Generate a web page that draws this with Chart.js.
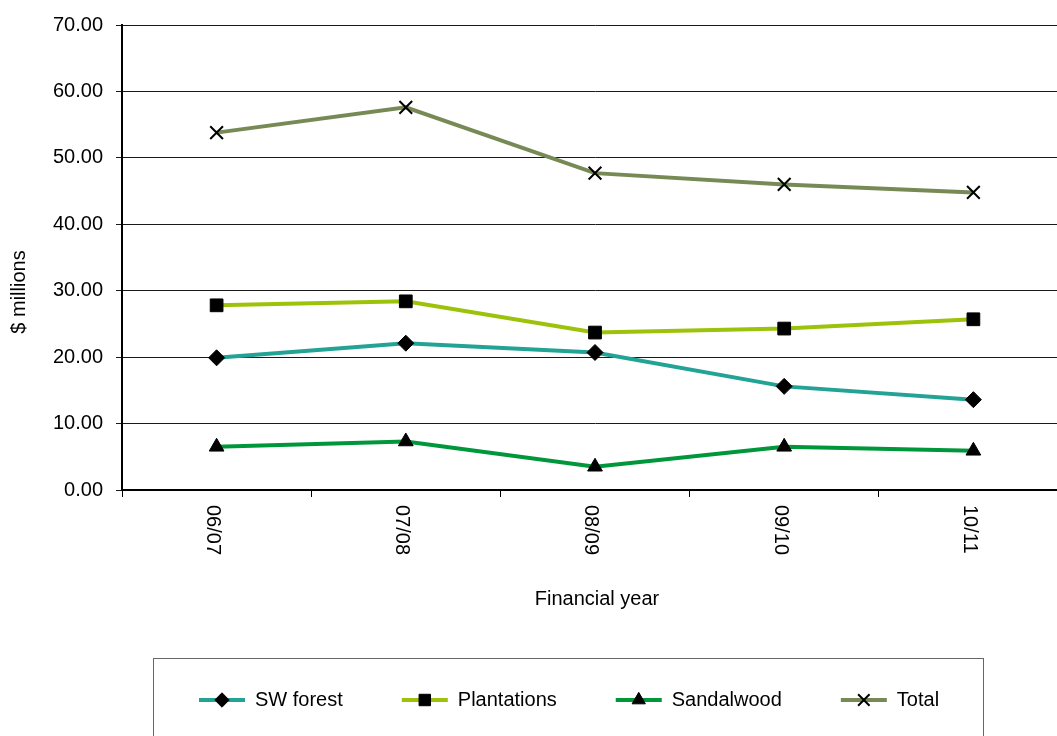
<!DOCTYPE html>
<html>
<head>
  <title>Forest products revenue</title>
  <script src="https://cdn.jsdelivr.net/npm/chart.js"></script>
  <style>
    body {
      margin: 0;
      background: #fff;
      overflow: hidden;
    }

    /* wider than the window: the plot runs off the right edge */
    .wrap {
      position: relative;
      width: 1079px;
      height: 736px;
    }
  </style>
</head>
<body>

  <div class="wrap">
    <canvas id="revenueChart"></canvas>
  </div>

  <script>
    // Revenue by source, $ millions per financial year
    const years = ["06/07", "07/08", "08/09", "09/10", "10/11"];
    const swForest = [19.9, 22.1, 20.7, 15.6, 13.6];
    const plantations = [27.8, 28.4, 23.7, 24.3, 25.7];
    const sandalwood = [6.5, 7.3, 3.5, 6.5, 5.9];
    const total = [53.8, 57.6, 47.7, 46.0, 44.8];

    const yMin = 0;
    const yMax = 70;
    const yStep = 10;

    const FAMILY = "'Liberation Sans', Arial, sans-serif";
    const FONT = "20px " + FAMILY;

    // category labels (rotated clockwise), axis titles and the boxed legend
    const extras = {
      id: "extras",
      afterDraw(chart) {
        const ctx = chart.ctx;
        const xs = chart.scales.x;

        ctx.save();
        ctx.fillStyle = "#000";
        ctx.font = FONT;

        ctx.textAlign = "left";
        ctx.textBaseline = "middle";
        years.forEach((label, i) => {
          ctx.save();
          ctx.translate(xs.getPixelForValue(i) - 4, xs.top + 15);
          ctx.rotate(Math.PI / 2);
          ctx.fillText(label, 0, 0);
          ctx.restore();
        });

        ctx.textAlign = "center";
        ctx.fillText("Financial year", 597, 599);

        ctx.save();
        ctx.translate(19, 292);
        ctx.rotate(-Math.PI / 2);
        ctx.fillText("$ millions", 0, 0);
        ctx.restore();

        // legend
        ctx.strokeStyle = "#666";
        ctx.lineWidth = 1;
        ctx.strokeRect(153.5, 658.5, 830, 120);

        let lx = 199;
        const ly = 700;
        chart.data.datasets.forEach(ds => {
          ctx.strokeStyle = ds.borderColor;
          ctx.lineWidth = 4;
          ctx.beginPath();
          ctx.moveTo(lx, ly);
          ctx.lineTo(lx + 46, ly);
          ctx.stroke();

          ctx.fillStyle = "#000";
          ctx.strokeStyle = "#000";
          ctx.lineWidth = ds.pointBorderWidth;
          Chart.helpers.drawPoint(ctx, {
            pointStyle: ds.pointStyle,
            radius: ds.pointRadius * 0.9,
            borderWidth: ds.pointBorderWidth,
            rotation: 0
          }, lx + 23, ly);

          ctx.fillStyle = "#000";
          ctx.textAlign = "left";
          ctx.fillText(ds.label, lx + 56, ly);
          lx += 56 + ctx.measureText(ds.label).width + 59;
        });

        ctx.restore();
      }
    };

    function series(label, data, color, style, radius, borderWidth) {
      return {
        label: label,
        data: data,
        borderColor: color,
        backgroundColor: color,
        borderWidth: 4,
        tension: 0,
        pointStyle: style,
        pointRadius: radius,
        pointHoverRadius: radius,
        pointBackgroundColor: "#000",
        pointBorderColor: "#000",
        pointBorderWidth: borderWidth
      };
    }

    const ctx = document.getElementById("revenueChart").getContext("2d");
    new Chart(ctx, {
      type: "line",
      data: {
        labels: years,
        datasets: [
          series("SW forest", swForest, "#22A396", "rectRot", 8, 1),
          series("Plantations", plantations, "#9DC20A", "rect", 9, 1),
          series("Sandalwood", sandalwood, "#00973B", "triangle", 8.5, 1),
          series("Total", total, "#778A55", "crossRot", 9, 2)
        ]
      },
      options: {
        responsive: true,
        maintainAspectRatio: false,
        animation: false,
        layout: {
          padding: { top: 25, left: 0, right: 0, bottom: 0 }
        },
        plugins: {
          legend: { display: false },
          tooltip: { enabled: false }
        },
        scales: {
          x: {
            offset: true,
            grid: {
              display: true,
              offset: true,
              drawOnChartArea: false,
              color: "#000",
              tickLength: 7
            },
            border: { color: "#000", width: 2 },
            ticks: { display: false },
            afterFit(scale) {
              scale.height = 246;
            }
          },
          y: {
            min: yMin,
            max: yMax,
            grid: {
              color: "#1a1a1a",
              lineWidth: 1,
              tickLength: 6
            },
            border: { color: "#000", width: 2 },
            ticks: {
              stepSize: yStep,
              padding: 13,
              color: "#000",
              font: { family: FAMILY, size: 20 },
              callback: v => v.toFixed(2)
            },
            afterFit(scale) {
              scale.width = 122;
            }
          }
        }
      },
      plugins: [extras]
    });
  </script>

</body>
</html>
